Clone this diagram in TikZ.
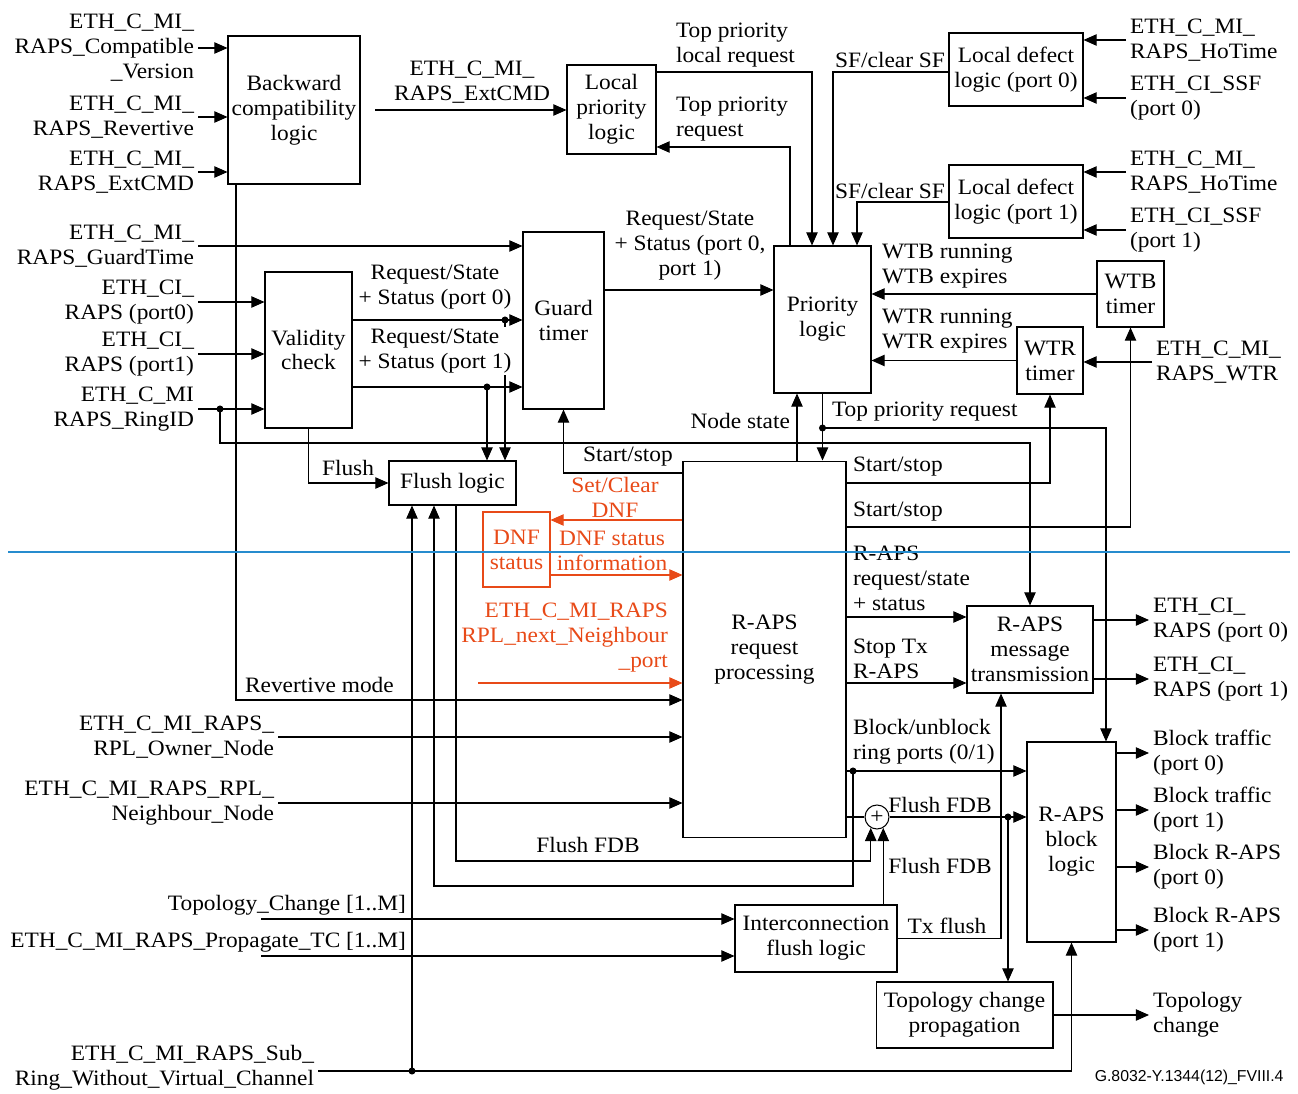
\documentclass[tikz,border=0pt]{standalone}
\usepackage{fontspec}
\setmainfont{Liberation Serif}[FakeStretch=1.065]
\setsansfont{Liberation Sans}
\usetikzlibrary{positioning,arrows.meta,shapes.geometric,calc}
\definecolor{dnfred}{RGB}{232,74,24}
\definecolor{sepblue}{RGB}{38,140,206}

\begin{document}
\begin{tikzpicture}[x=0.02cm, y=-0.02cm, line width=0.6pt,
  box/.style={draw,align=center,inner sep=1pt,font=\fontsize{12.5}{14.2}\selectfont},
  txt/.style={align=center,inner sep=2pt,font=\fontsize{12.5}{14.2}\selectfont},
  arr/.style={-{Triangle[length=7.5pt,width=6.5pt]}}]
\useasboundingbox (0,0) rectangle (1298,1094);

% blocks
\node[box,minimum width=2.64cm,minimum height=2.96cm] (bc) at (294,110) {Backward\\compatibility\\logic};
\node[box,minimum width=1.78cm,minimum height=1.78cm] (lp) at (611.5,109.5) {Local\\priority\\logic};
\node[box,minimum width=2.68cm,minimum height=1.46cm] (ld0) at (1016,69.5) {Local defect\\logic (port 0)};
\node[box,minimum width=2.68cm,minimum height=1.46cm] (ld1) at (1016,201.5) {Local defect\\logic (port 1)};
\node[box,minimum width=1.94cm,minimum height=2.94cm] (pr) at (822.5,319.5) {Priority\\logic};
\node[box,minimum width=1.62cm,minimum height=3.54cm] (gt) at (563.5,320.5) {Guard\\timer};
\node[box,minimum width=1.74cm,minimum height=3.12cm] (vc) at (308.5,350) {Validity\\check};
\node[box,minimum width=1.34cm,minimum height=1.32cm] (wtb) at (1130.5,294) {WTB\\timer};
\node[box,minimum width=1.32cm,minimum height=1.34cm] (wtr) at (1050,360.5) {WTR\\timer};
\node[box,minimum width=2.54cm,minimum height=0.88cm] (fl) at (452.5,483) {Flush logic};
\node[box,minimum width=3.26cm,minimum height=7.54cm] (rq) at (764.5,649.5) {R-APS\\request\\processing};
\node[box,draw=dnfred,text=dnfred,minimum width=1.34cm,minimum height=1.5cm] (dnf) at (516.5,549.5) {DNF\\status};
\node[box,minimum width=2.52cm,minimum height=1.74cm] (tx) at (1030,649.5) {R-APS\\message\\transmission};
\node[box,minimum width=1.78cm,minimum height=4cm] (bl) at (1071.5,842) {R-APS\\block\\logic};
\node[box,minimum width=3.24cm,minimum height=1.34cm] (ic) at (816,938.5) {Interconnection\\flush logic};
\node[box,minimum width=3.54cm,minimum height=1.32cm] (tc) at (964.5,1015) {Topology change\\propagation};
\node[box,circle,minimum size=0.48cm,inner sep=0pt] (sum) at (877,817) {+};

% inputs on the left
\node[txt,align=right,anchor=east] (iv) at (198,48) {ETH\_C\_MI\_\\RAPS\_Compatible\\\_Version};
\node[txt,align=right,anchor=east] (irv) at (198,117) {ETH\_C\_MI\_\\RAPS\_Revertive};
\node[txt,align=right,anchor=east] (iec) at (198,172) {ETH\_C\_MI\_\\RAPS\_ExtCMD};
\node[txt,align=right,anchor=east] (igt) at (198,246) {ETH\_C\_MI\_\\RAPS\_GuardTime};
\node[txt,align=right,anchor=east] (ip0) at (198,302) {ETH\_CI\_\\RAPS (port0)};
\node[txt,align=right,anchor=east] (ip1) at (198,354) {ETH\_CI\_\\RAPS (port1)};
\node[txt,align=right,anchor=east] (iid) at (198,409) {ETH\_C\_MI\\RAPS\_RingID};
\draw[arr] (iv.east) -- (iv.east -| bc.west);
\draw[arr] (irv.east) -- (irv.east -| bc.west);
\draw[arr] (iec.east) -- (iec.east -| bc.west);
\draw[arr] (igt.east) -- (igt.east -| gt.west);
\draw[arr] (ip0.east) -- (ip0.east -| vc.west);
\draw[arr] (ip1.east) -- (ip1.east -| vc.west);
\draw[arr] (iid.east) -- (iid.east -| vc.west);
\coordinate (rid) at (220,409);
\draw[arr] (rid) |- (tx.north |- 0,443) -- (tx.north);
\fill (rid) circle (2pt);

\coordinate (rv) at (236,700);
\draw[arr] (rv |- bc.south) -- (rv) -- (rv -| rq.west);
\node[txt,anchor=west] (lrv) at (241,685) {Revertive mode};

% local priority
\node[txt] (lec) at (472,82) {ETH\_C\_MI\_\\RAPS\_ExtCMD};
\coordinate (ec) at (375,110);
\draw[arr] (ec) -- (ec -| lp.west);
\draw[arr] (lp.east |- 0,72) -| (812,0 |- pr.north);
\draw[arr] (790,0 |- pr.north) |- (lp.east |- 0,147);
\node[txt,align=left,anchor=west] (ltl) at (672,45) {Top priority\\local request};
\node[txt,align=left,anchor=west] (ltr) at (672,119) {Top priority\\request};

% local defect
\draw[arr] (ld0.west |- 0,72) -| (833,0 |- pr.north);
\draw[arr] (ld1.west |- 0,202) -| (857,0 |- pr.north);
\node[txt] (lsf0) at (890,60) {SF/clear SF};
\node[txt] (lsf1) at (890,191) {SF/clear SF};
\node[txt,align=left,anchor=west] (iho0) at (1126,40) {ETH\_C\_MI\_\\RAPS\_HoTime};
\node[txt,align=left,anchor=west] (iss0) at (1126,98) {ETH\_CI\_SSF\\(port 0)};
\node[txt,align=left,anchor=west] (iho1) at (1126,172) {ETH\_C\_MI\_\\RAPS\_HoTime};
\node[txt,align=left,anchor=west] (iss1) at (1126,230) {ETH\_CI\_SSF\\(port 1)};
\draw[arr] (iho0.west) -- (iho0.west -| ld0.east);
\draw[arr] (iss0.west) -- (iss0.west -| ld0.east);
\draw[arr] (iho1.west) -- (iho1.west -| ld1.east);
\draw[arr] (iss1.west) -- (iss1.west -| ld1.east);

% validity check and guard timer
\draw[arr] (gt.east |- 0,290) -- (pr.west |- 0,290);
\node[txt] (lrs) at (690,246) {Request/State\\+ Status (port 0,\\port 1)};
\draw[arr] (vc.east |- 0,320) -- (gt.west |- 0,320);
\draw[arr] (vc.east |- 0,387) -- (gt.west |- 0,387);
\coordinate (j0) at (505,320);
\coordinate (j1) at (487,387);
\draw[arr] (j0) -- (j0 |- fl.north);
\draw[arr] (j1) -- (j1 |- fl.north);
\fill (j0) circle (2pt);
\fill (j1) circle (2pt);
\node[txt,inner sep=1pt] (lrs0) at (435,287) {Request/State\\+ Status (port 0)};
\node[txt,inner sep=1pt,fill=white] (lrs1) at (435,351) {Request/State\\+ Status (port 1)};
\draw[arr] (vc.south) |- (fl.west);
\node[txt] (lfl) at (348,468) {Flush};

% flush logic loops
\coordinate (sr) at (412,1071);
\node[txt,align=right,anchor=east] (isr) at (318,1068) {ETH\_C\_MI\_RAPS\_Sub\_\\Ring\_Without\_Virtual\_Channel};
\draw[arr] (sr) -- (sr |- fl.south);
\draw[arr] (isr.east |- sr) -| (bl.south);
\fill (sr) circle (2pt);
\coordinate (bu) at (853,771);
\draw[arr] (rq.east |- bu) -- (bu -| bl.west);
\draw[arr] (bu) -- ++(0,115) -| (434,0 |- fl.south);
\fill (bu) circle (2pt);
\draw[arr] (456,0 |- fl.south) |- (sum.240 |- 0,861) -- (sum.240);
\draw (rq.east |- sum) -- (sum);
\draw[arr] (sum) -- (sum -| bl.west);
\coordinate (tj) at (1008,817);
\draw[arr] (tj) -- (tj |- tc.north);
\fill (tj) circle (2pt);
\draw[arr] (sum.300 |- ic.north) -- (sum.300);
\node[txt] (lff1) at (588,845) {Flush FDB};
\node[txt] (lff2) at (940,805) {Flush FDB};
\node[txt] (lff3) at (940,866) {Flush FDB};

% interconnection and topology change
\draw[arr] (ic.east) -| (1001,0 |- tx.south);
\node[txt] (ltf) at (947,926) {Tx flush};
\node[txt,anchor=south east] (itc) at (410,919) {Topology\_Change [1..M]};
\node[txt,anchor=south east] (ipt) at (410,956) {ETH\_C\_MI\_RAPS\_Propagate\_TC [1..M]};
\coordinate (tc0) at (261,919);
\coordinate (tc1) at (261,956);
\draw[arr] (tc0) -- (tc0 -| ic.west);
\draw[arr] (tc1) -- (tc1 -| ic.west);
\node[txt,align=left,anchor=west] (otc) at (1149,1015) {Topology\\change};
\draw[arr] (tc.east) -- (tc.east -| otc.west);

% outputs on the right
\node[txt,align=left,anchor=west] (oc0) at (1149,620) {ETH\_CI\_\\RAPS (port 0)};
\node[txt,align=left,anchor=west] (oc1) at (1149,679) {ETH\_CI\_\\RAPS (port 1)};
\draw[arr] (tx.east |- oc0.west) -- (oc0.west);
\draw[arr] (tx.east |- oc1.west) -- (oc1.west);
\node[txt,align=left,anchor=west] (ob0) at (1149,753) {Block traffic\\(port 0)};
\node[txt,align=left,anchor=west] (ob1) at (1149,810) {Block traffic\\(port 1)};
\node[txt,align=left,anchor=west] (ob2) at (1149,867) {Block R-APS\\(port 0)};
\node[txt,align=left,anchor=west] (ob3) at (1149,930) {Block R-APS\\(port 1)};
\draw[arr] (bl.east |- ob0.west) -- (ob0.west);
\draw[arr] (bl.east |- ob1.west) -- (ob1.west);
\draw[arr] (bl.east |- ob2.west) -- (ob2.west);
\draw[arr] (bl.east |- ob3.west) -- (ob3.west);

% R-APS request processing outputs
\draw[arr] (rq.east |- 0,617) -- (tx.west |- 0,617);
\draw[arr] (rq.east |- 0,683) -- (tx.west |- 0,683);
\node[txt,align=left,anchor=west] (lrq) at (849,578) {R-APS\\request/state\\+ status};
\node[txt,align=left,anchor=west] (lst) at (849,659) {Stop Tx\\R-APS};
\node[txt,align=left,anchor=west] (lbu) at (849,742) {Block/unblock\\ring ports (0/1)};
\draw[arr] (rq.east |- 0,483) -| (wtr.south);
\draw[arr] (rq.east |- 0,527) -| (wtb.south);
\node[txt,anchor=west] (lss1) at (849,467) {Start/stop};
\node[txt,anchor=west] (lss2) at (849,512) {Start/stop};

% timers
\draw[arr] (wtb.west) -- (wtb.west -| pr.east);
\draw[arr] (wtr.west) -- (wtr.west -| pr.east);
\node[txt,align=left,anchor=west] (lwb) at (878,266) {WTB running\\WTB expires};
\node[txt,align=left,anchor=west] (lwr) at (878,331) {WTR running\\WTR expires};
\node[txt,align=left,anchor=west] (iwr) at (1152,362) {ETH\_C\_MI\_\\RAPS\_WTR};
\draw[arr] (iwr.west) -- (iwr.west -| wtr.east);

% priority logic <-> request processing
\draw[arr] (797,0 |- rq.north) -- (797,0 |- pr.south);
\node[txt,anchor=east] (lns) at (794,421) {Node state};
\draw[arr] (pr.south) -- (pr.south |- rq.north);
\coordinate (tp) at (pr.south |- 0,428);
\draw[arr] (tp) -| (1106,0 |- bl.north);
\fill (tp) circle (2pt);
\node[txt,anchor=west] (ltp) at (828,412) {Top priority request};
\draw[arr] (rq.west |- 0,473) -| (gt.south);
\node[txt] (lss0) at (628,457) {Start/stop};

% DNF
\draw[arr,dnfred] (rq.west |- 0,520) -- (dnf.east |- 0,520);
\draw[arr,dnfred] (dnf.east |- 0,575) -- (rq.west |- 0,575);
\node[txt,text=dnfred] (lsc) at (615,497) {Set/Clear\\DNF};
\node[txt,text=dnfred] (ldi) at (612,551) {DNF status\\information};
\node[txt,text=dnfred,align=right,anchor=east] (inn) at (672,638) {ETH\_C\_MI\_RAPS\\RPL\_next\_Neighbour\\\_port};
\coordinate (nn) at (478,683);
\draw[arr,dnfred] (nn) -- (nn -| rq.west);

% RPL inputs
\node[txt,align=right,anchor=east] (iow) at (278,737) {ETH\_C\_MI\_RAPS\_\\RPL\_Owner\_Node};
\node[txt,align=right,anchor=east] (inb) at (278,803) {ETH\_C\_MI\_RAPS\_RPL\_\\Neighbour\_Node};
\draw[arr] (iow.east) -- (iow.east -| rq.west);
\draw[arr] (inb.east) -- (inb.east -| rq.west);

\node[font=\sffamily\fontsize{9}{10}\selectfont,anchor=east,inner sep=0pt] (fig) at (1284,1077) {G.8032-Y.1344(12)\_FVIII.4};
\draw[sepblue,line width=0.8pt] (8,552) -- (1290,552);
\end{tikzpicture}
\end{document}
